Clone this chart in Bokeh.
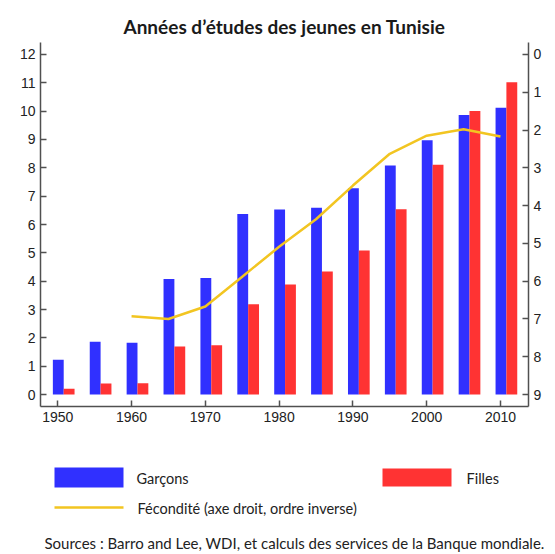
from bokeh.plotting import figure
from bokeh.models import Range1d, LinearAxis, FixedTicker, ColumnDataSource, Title
from bokeh.layouts import column
from bokeh.transform import dodge
from bokeh.embed import file_html
from bokeh.resources import INLINE
from bokeh.core.properties import value

# ---- data ----
years = [1950, 1955, 1960, 1965, 1970, 1975, 1980, 1985, 1990, 1995, 2000, 2005, 2010]
garcons = [1.23, 1.86, 1.83, 4.08, 4.11, 6.37, 6.53, 6.59, 7.28, 8.08, 8.97, 9.86, 10.12]
filles = [0.21, 0.39, 0.40, 1.70, 1.74, 3.19, 3.88, 4.34, 5.08, 6.54, 8.11, 10.00, 11.02]
fert_years = [1960, 1965, 1970, 1975, 1980, 1985, 1990, 1995, 2000, 2005, 2010]
fecondite = [6.93, 7.00, 6.67, 5.88, 5.09, 4.36, 3.47, 2.63, 2.15, 1.98, 2.17]
left_ticks = list(range(0, 13))
right_ticks = list(range(0, 10))
x_ticks = [1950, 1960, 1970, 1980, 1990, 2000, 2010]

title_text = "Années d’études des jeunes en Tunisie"
legend_labels = ["Garçons", "Filles", "Fécondité (axe droit, ordre inverse)"]
source_text = "Sources : Barro and Lee, WDI, et calculs des services de la Banque mondiale."

BLUE = "#3030FF"
RED = "#FF3333"
GOLD = "#F2C521"
AXIS = "#505050"
TICK_FONT = "Liberation Sans"
TEXT_FONT = "Lato"

W = 555
H1 = 440
H2 = 114
BL, BR = 40, 27

bars = ColumnDataSource(dict(year=years, garcons=garcons, filles=filles))
fert = ColumnDataSource(dict(year=fert_years, fert=fecondite))

p = figure(width=W, height=H1, output_backend="svg", toolbar_location=None,
           x_range=Range1d(1947.66, 2013.8), y_range=Range1d(-0.42, 12.42),
           min_border_left=BL, min_border_right=BR, min_border_top=42, min_border_bottom=34,
           title=title_text)
p.extra_y_ranges = {"fert": Range1d(9.315, -0.315)}
p.outline_line_color = None
p.xgrid.visible = False
p.ygrid.visible = False
p.background_fill_color = "white"
p.border_fill_color = "white"

p.title.text_font = TEXT_FONT
p.title.text_font_size = "19px"
p.title.text_font_style = "bold"
p.title.text_color = "#1a1a1a"
p.title.align = "center"

p.vbar(x=dodge("year", 0.07, range=p.x_range), top="garcons", bottom=0, width=1.47,
       source=bars, fill_color=BLUE, line_color=None)
p.vbar(x=dodge("year", 1.54, range=p.x_range), top="filles", bottom=0, width=1.47,
       source=bars, fill_color=RED, line_color=None)
p.line(x="year", y="fert", source=fert, y_range_name="fert",
       line_color=GOLD, line_width=2.5, line_join="round")

right = LinearAxis(y_range_name="fert")
p.add_layout(right, "right")

for ax, ticks in ((p.xaxis[0], x_ticks), (p.yaxis[0], left_ticks), (right, right_ticks)):
    ax.ticker = FixedTicker(ticks=ticks)
    ax.axis_line_color = AXIS
    ax.axis_line_width = 1.5
    ax.major_tick_line_color = AXIS
    ax.major_tick_line_width = 1.5
    ax.major_tick_in = 6
    ax.major_tick_out = 0
    ax.minor_tick_line_color = None
    ax.major_label_text_font = TICK_FONT
    ax.major_label_text_font_size = "14px"
    ax.major_label_text_color = "#222222"
    ax.major_label_standoff = 5

# ---- legend / source panel ----
FB = 23  # bottom border of legend panel (holds the sources line)
q = figure(width=W, height=H2, output_backend="svg", toolbar_location=None,
           x_range=Range1d(BL, W - BR), y_range=Range1d(H2 - FB, 0),
           x_axis_type=None, y_axis_type=None,
           min_border_left=BL, min_border_right=BR, min_border_top=0, min_border_bottom=FB)
q.outline_line_color = None
q.xgrid.visible = False
q.ygrid.visible = False

q.quad(left=[54], right=[123], top=[27], bottom=[47], fill_color=BLUE, line_color=None)
q.quad(left=[382], right=[451], top=[28], bottom=[46], fill_color=RED, line_color=None)
q.line(x=[54, 123], y=[67, 67], line_color=GOLD, line_width=2.5)

q.text(x=[136, 466, 137], y=[38, 38, 68], text=legend_labels,
       text_font=value(TEXT_FONT), text_font_size="14.5px", text_color="#222222",
       text_baseline="middle", text_align="left")

src_title = Title(text=source_text, align="left", offset=4, standoff=0,
                  text_font=TEXT_FONT, text_font_size="15px", text_font_style="normal",
                  text_color="#222222")
q.add_layout(src_title, "below")

layout = column(p, q, spacing=0)
open("out.html", "w").write(file_html(layout, INLINE))
